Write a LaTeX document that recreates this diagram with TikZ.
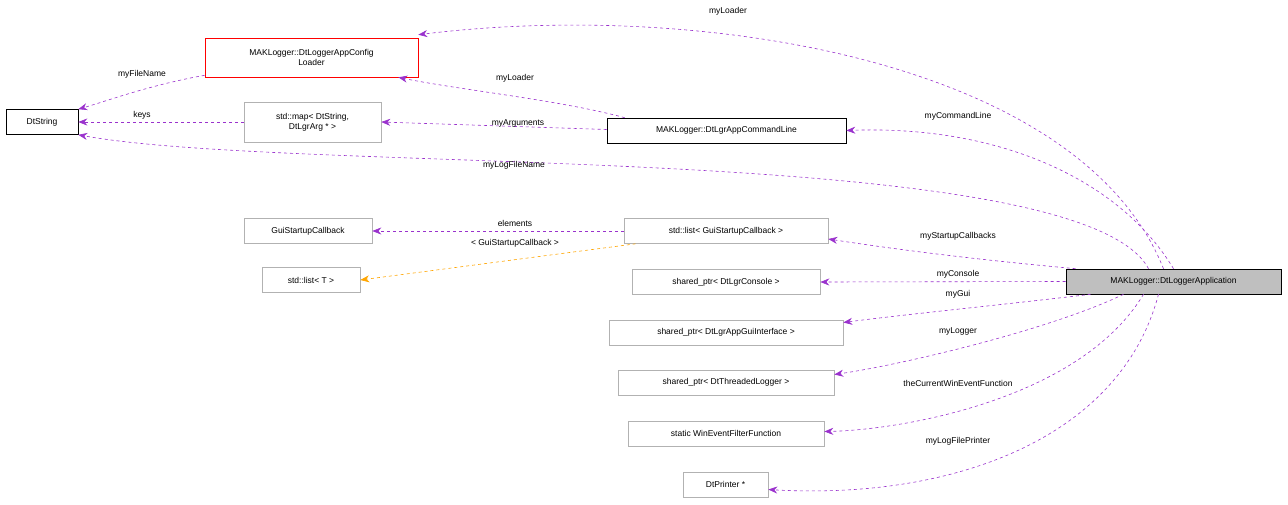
\documentclass[tikz,border=0pt]{standalone}
\usepackage{fontspec}
\setmainfont{Liberation Sans}
\usetikzlibrary{calc,arrows.meta}
\definecolor{ep}{HTML}{9A32CD}
\definecolor{eo}{HTML}{FFA500}
\tikzset{
 box/.style={draw=#1,fill=white,inner sep=0pt,minimum height=25pt,font=\fontsize{8.5}{10}\selectfont,align=center,line width=0.6pt},
 edge/.style={draw=ep,dashed,line width=0.6pt,-{Stealth[length=9pt,width=7pt,fill=ep]}},
 oedge/.style={draw=eo,dashed,line width=0.6pt,-{Stealth[length=9pt,width=7pt,fill=eo]}},
 lbl/.style={font=\fontsize{8.5}{10}\selectfont,inner sep=1pt}
}
\begin{document}
\begin{tikzpicture}[x=1pt,y=-1pt]
\useasboundingbox (0,0) rectangle (1288,504);
\node[box=black,minimum width=72pt] (dts) at (42,122) {DtString};
\node[box=red,minimum width=213pt,minimum height=39pt] (ldr) at (311.5,57.5) {MAKLogger::DtLoggerAppConfig\\Loader};
\node[box=gray!60,minimum width=137pt,minimum height=40pt] (map) at (312.5,122) {std::map< DtString,\\DtLgrArg * >};
\node[box=black,minimum width=239pt] (cmd) at (726.5,130.5) {MAKLogger::DtLgrAppCommandLine};
\node[box=gray!60,minimum width=128pt] (gui) at (308,231) {GuiStartupCallback};
\node[box=gray!60,minimum width=204pt] (lst) at (726,231) {std::list< GuiStartupCallback >};
\node[box=gray!60,minimum width=98pt] (lt) at (311,280) {std::list< T >};
\node[box=gray!60,minimum width=188pt] (con) at (726,282) {shared\_ptr< DtLgrConsole >};
\node[box=black,fill=gray!50,minimum width=215pt] (app) at (1173.5,281.5) {MAKLogger::DtLoggerApplication};
\node[box=gray!60,minimum width=234pt] (sgui) at (726,332.5) {shared\_ptr< DtLgrAppGuiInterface >};
\node[box=gray!60,minimum width=216pt] (slog) at (726,382.5) {shared\_ptr< DtThreadedLogger >};
\node[box=gray!60,minimum width=196pt] (win) at (726,433.5) {static WinEventFilterFunction};
\node[box=gray!60,minimum width=85pt] (prn) at (725.5,484.5) {DtPrinter *};

\draw[edge] ($(app.north)+(-10,0)$) .. controls (1080,60) and (700,0) .. ($(ldr.north east)+(0,-3)$);
\node[lbl] (l1) at (728,11) {myLoader};
\draw[edge] ($(app.north)+(0,0)$) .. controls (1120,180) and (1000,125) .. (cmd.east);
\node[lbl] (l2) at (958,116) {myCommandLine};
\draw[edge] ($(app.north)+(-25,0)$) .. controls (1080,140) and (300,175) .. ($(dts.south east)+(0,0)$);
\node[lbl] (l3) at (514,165) {myLogFileName};
\draw[edge] ($(app.north west)+(10,0)$) .. controls (980,260) and (900,250) .. ($(lst.east)+(0,8)$);
\node[lbl] (l4) at (958,236) {myStartupCallbacks};
\draw[edge] (app.west) -- (con.east);
\node[lbl] (l5) at (958,274) {myConsole};
\draw[edge] ($(app.south west)+(25,0)$) .. controls (1000,305) and (900,315) .. ($(sgui.east)+(0,-10)$);
\node[lbl] (l6) at (958,294) {myGui};
\draw[edge] ($(app.south)+(-50,0)$) .. controls (1050,330) and (900,365) .. ($(slog.east)+(0,-8)$);
\node[lbl] (l7) at (958,331) {myLogger};
\draw[edge] ($(app.south)+(-30,0)$) .. controls (1080,400) and (900,430) .. ($(win.east)+(0,-2)$);
\node[lbl] (l8) at (958,383) {theCurrentWinEventFunction};
\draw[edge] ($(app.south)+(-15,0)$) .. controls (1120,440) and (950,500) .. ($(prn.east)+(0,5)$);
\node[lbl] (l9) at (958,441) {myLogFilePrinter};
\draw[edge] ($(cmd.north west)+(18,0)$) .. controls (560,100) and (460,90) .. ($(ldr.south east)+(-20,0)$);
\node[lbl] (l10) at (515,78) {myLoader};
\draw[edge] ($(cmd.west)+(0,-1)$) -- (map.east);
\node[lbl] (l11) at (518,123) {myArguments};
\draw[edge] ($(ldr.south west)+(0,-2)$) .. controls (150,85) and (110,100) .. (dts.north east);
\node[lbl] (l12) at (142,74) {myFileName};
\draw[edge] (map.west) -- (dts.east);
\node[lbl] (l13) at (142,115) {keys};
\draw[edge] (lst.west) -- (gui.east);
\node[lbl] (l14) at (515,223) {elements};
\draw[oedge] ($(lst.south west)+(12,0)$) -- (lt.east);
\node[lbl] (l15) at (515,243) {< GuiStartupCallback >};
\end{tikzpicture}
\end{document}
